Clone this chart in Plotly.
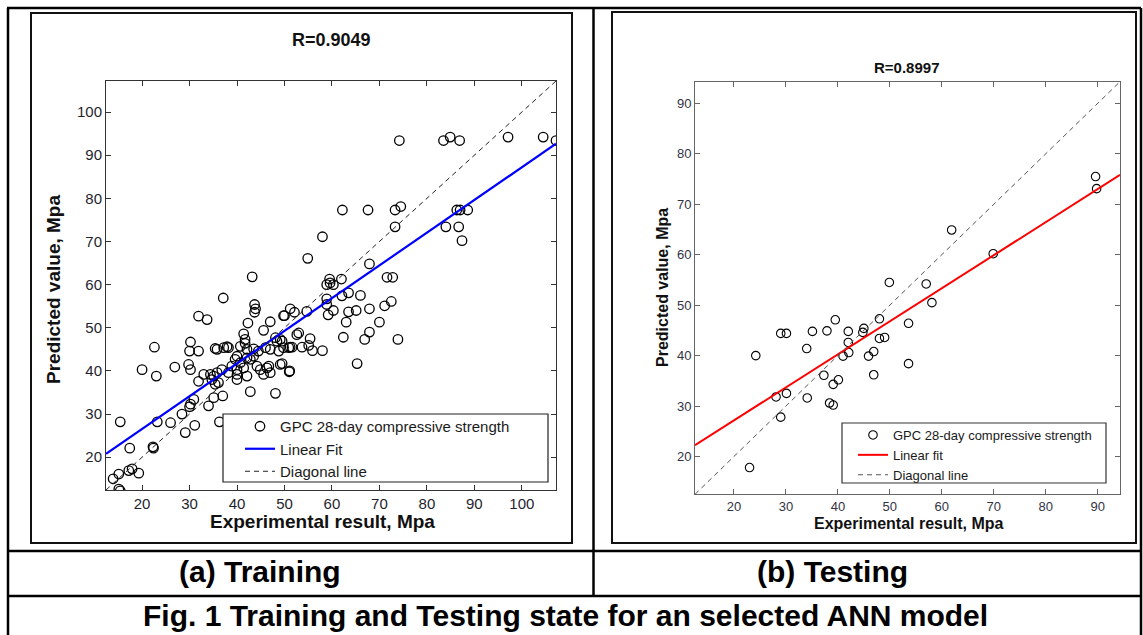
import plotly.graph_objects as go

W, H = 1143, 635

# ---------------- data ----------------
train_x = [74.2, 83.5, 84.9, 86.9, 97.1, 104.5, 107.2,
           62.2, 67.6, 73.3, 74.5, 86.3, 87.0, 88.6,
           73.3, 84.0, 86.7, 87.4, 58.0, 54.9, 67.9,
           59.5, 62.0, 71.6, 72.8, 43.2,
           58.9, 60.3, 59.6,
           63.5, 66.0, 62.1, 58.9, 58.9, 72.5, 71.1, 67.9, 65.1, 63.5, 60.3, 59.2, 54.7, 51.2, 52.1, 50.0,
           63.0, 70.0, 67.9, 62.4, 66.9, 73.9, 53.0, 55.4,
           55.1, 53.7, 51.6, 51.2, 49.5, 55.9, 58.0,
           65.3, 49.5, 51.0,
           37.1, 43.7, 43.9, 43.7, 31.9, 33.7, 42.3, 47.0, 49.8, 45.6, 41.4, 41.7, 48.1, 49.1, 48.4, 30.2, 22.6, 30.0, 31.9,
           35.4, 35.8, 37.9, 37.2, 38.2, 40.7, 41.7, 42.1,
           43.5, 44.5, 46.0, 47.0, 48.8, 49.8, 50.9, 52.6,
           20.0, 23.0, 26.9, 29.8, 30.2, 31.9, 33.0,
           34.4, 35.1, 34.7, 35.8, 36.1, 35.4,
           36.8, 38.2, 38.9, 39.6, 40.0, 40.7, 40.0, 41.4, 42.1, 42.8, 43.5,
           44.2, 44.9, 46.3, 45.6, 46.7, 47.0,
           49.1, 51.1, 40.0, 42.1, 40.0,
           42.8, 48.1, 37.0, 35.1, 34.0,
           30.9, 30.2, 30.0,
           28.4, 26.0, 23.2, 15.4, 31.1, 29.1, 36.3,
           17.4, 22.3, 22.4,
           13.9, 15.1, 17.2, 17.9, 19.3, 15.1, 15.4]
train_y = [93.4, 93.4, 94.2, 93.4, 94.2, 94.2, 93.4,
           77.3, 77.3, 77.3, 78.1, 77.3, 77.3, 77.3,
           73.4, 73.4, 73.4, 70.2, 71.1, 66.1, 64.8,
           61.3, 61.3, 61.7, 61.7, 61.8,
           60.0, 60.0, 60.4,
           58.1, 57.5, 57.4, 56.7, 55.4, 56.1, 55.1, 54.4, 54.0, 53.7, 54.0, 53.0, 53.8, 54.4, 53.6, 52.8,
           51.3, 51.3, 49.0, 47.8, 47.3, 47.3, 48.8, 47.5,
           45.9, 45.5, 45.5, 45.5, 46.9, 44.7, 44.7,
           41.7, 41.7, 39.8,
           56.9, 55.4, 54.4, 53.6, 52.7, 51.9, 51.1, 51.4, 52.8, 49.4, 48.6, 47.3, 47.7, 47.3, 46.9, 46.7, 45.5, 44.6, 44.6,
           45.2, 45.0, 45.6, 45.4, 45.4, 45.7, 46.4, 45.0,
           45.1, 44.6, 45.4, 45.0, 44.6, 45.4, 45.4, 48.4,
           40.3, 38.8, 40.9, 41.5, 40.3, 37.6, 39.2,
           39.2, 38.8, 38.0, 39.6, 37.3, 36.9,
           40.3, 39.6, 41.1, 42.7, 43.4, 41.9, 40.3, 40.7, 43.0, 42.7, 43.4,
           41.1, 40.3, 40.7, 39.2, 41.1, 39.6,
           41.5, 40.0, 38.0, 38.8, 39.2,
           35.2, 34.8, 34.2, 33.8, 31.9,
           33.4, 32.3, 31.7,
           30.0, 28.0, 28.2, 28.2, 27.4, 25.7, 28.2,
           22.1, 22.4, 22.1,
           15.0, 16.1, 16.9, 17.3, 16.3, 12.6, 12.2]

test_x = [49.9, 57.0, 58.1, 53.6, 48.0, 39.5, 29.0, 30.1, 35.1, 37.9, 42.0, 45.0, 44.8,
          42.0, 48.0, 49.0, 34.0, 24.2, 42.1, 41.0, 45.9, 46.9, 53.6, 37.3, 46.9, 40.1,
          39.1, 30.1, 28.1, 34.1, 38.4, 39.1, 29.0, 23.0, 61.9, 69.9, 89.6, 89.8]
test_y = [54.5, 54.2, 50.5, 46.4, 47.3, 47.1, 44.4, 44.4, 44.8, 44.9, 44.8, 45.4, 44.6,
          42.6, 43.4, 43.6, 41.4, 40.0, 40.6, 39.9, 39.9, 40.8, 38.4, 36.1, 36.2, 35.2,
          34.3, 32.5, 31.8, 31.6, 30.6, 30.2, 27.8, 17.8, 64.9, 60.2, 75.5, 73.1]

train_fit = (0.758, 11.4)      # slope, intercept of the blue linear fit
test_fit = (0.655, 14.05)      # slope, intercept of the red linear fit
train_range = [12.4, 107.2]
test_range = [12.5, 94.3]
train_ticks = [20, 30, 40, 50, 60, 70, 80, 90, 100]
test_ticks = [20, 30, 40, 50, 60, 70, 80, 90]
train_title = "R=0.9049"
test_title = "R=0.8997"
x_title = "Experimental result, Mpa"
y_title = "Predicted value, Mpa"
series_name = "GPC 28-day compressive strength"
train_fit_name = "Linear Fit"
test_fit_name = "Linear fit"
diag_name = "Diagonal line"
panel_a = "(a) Training"
panel_b = "(b) Testing"
caption = "Fig. 1 Training and Testing state for an selected ANN model"

FONT = "Liberation Sans, Arial, sans-serif"


def px(x):
    return x / W


def py(y):
    return 1 - y / H


fig = go.Figure()

# ---------- training panel ----------
fig.add_trace(go.Scatter(
    x=train_x, y=train_y, mode="markers", name=series_name,
    marker=dict(symbol="circle-open", size=9.5, color="black", line=dict(width=1.3, color="black")),
    xaxis="x", yaxis="y", legend="legend"))
fx = train_range
fig.add_trace(go.Scatter(
    x=fx, y=[train_fit[0] * v + train_fit[1] for v in fx], mode="lines", name=train_fit_name,
    line=dict(color="#0000ff", width=2.2), xaxis="x", yaxis="y", legend="legend"))
fig.add_trace(go.Scatter(
    x=train_range, y=train_range, mode="lines", name=diag_name,
    line=dict(color="#222222", width=1, dash="5px,4px"), xaxis="x", yaxis="y", legend="legend"))

# ---------- testing panel ----------
fig.add_trace(go.Scatter(
    x=test_x, y=test_y, mode="markers", name=series_name,
    marker=dict(symbol="circle-open", size=8.5, color="black", line=dict(width=1.1, color="black")),
    xaxis="x2", yaxis="y2", legend="legend2"))
gx = test_range
fig.add_trace(go.Scatter(
    x=gx, y=[test_fit[0] * v + test_fit[1] for v in gx], mode="lines", name=test_fit_name,
    line=dict(color="#ff0000", width=2), xaxis="x2", yaxis="y2", legend="legend2"))
fig.add_trace(go.Scatter(
    x=test_range, y=test_range, mode="lines", name=diag_name,
    line=dict(color="#555555", width=1, dash="5px,4px"), xaxis="x2", yaxis="y2", legend="legend2"))

axis_common = dict(showgrid=False, zeroline=False, showline=True, mirror="ticks",
                   ticks="inside", ticklen=5, tickwidth=1)

fig.update_layout(
    width=W, height=H, autosize=False,
    margin=dict(l=0, r=0, t=0, b=0),
    paper_bgcolor="white", plot_bgcolor="white",
    font=dict(family=FONT, color="#1a1a1a"),
    xaxis=dict(domain=[px(106), px(556)], range=train_range, tickvals=train_ticks,
               linecolor="#333333", tickcolor="#333333", tickfont=dict(size=15, color="#1f1f2e"),
               anchor="y", **axis_common),
    yaxis=dict(domain=[py(490), py(81)], range=train_range, tickvals=train_ticks,
               linecolor="#333333", tickcolor="#333333", tickfont=dict(size=15, color="#1f1f2e"),
               anchor="x", **axis_common),
    xaxis2=dict(domain=[px(695), px(1120)], range=test_range, tickvals=test_ticks,
                linecolor="#666666", tickcolor="#666666", tickfont=dict(size=13, color="#333344"),
                anchor="y2", **axis_common),
    yaxis2=dict(domain=[py(494.3), py(81.7)], range=test_range, tickvals=test_ticks,
                linecolor="#666666", tickcolor="#666666", tickfont=dict(size=13, color="#333344"),
                anchor="x2", **axis_common),
    legend=dict(x=px(240), y=py(410), xanchor="left", yanchor="top",
                bgcolor="rgba(0,0,0,0)", borderwidth=0, tracegroupgap=0,
                font=dict(size=15, color="#1a1a1a", family=FONT)),
    legend2=dict(x=px(853), y=py(420), xanchor="left", yanchor="top",
                 bgcolor="rgba(0,0,0,0)", borderwidth=0, tracegroupgap=0,
                 font=dict(size=13, color="#1a1a1a", family=FONT)),
)

shapes = []
# legend boxes
shapes.append(dict(type="rect", xref="paper", yref="paper", x0=px(223), x1=px(548), y0=py(482), y1=py(414),
                   line=dict(color="#222222", width=1.2), fillcolor="white", layer="above"))
shapes.append(dict(type="rect", xref="paper", yref="paper", x0=px(842), x1=px(1106), y0=py(483), y1=py(423),
                   line=dict(color="#333333", width=1.2), fillcolor="white", layer="above"))
# inner figure frames
shapes.append(dict(type="rect", xref="paper", yref="paper", x0=px(31), x1=px(572), y0=py(543), y1=py(13),
                   line=dict(color="#111111", width=2), fillcolor="rgba(0,0,0,0)", layer="above"))
shapes.append(dict(type="rect", xref="paper", yref="paper", x0=px(612), x1=px(1136), y0=py(543), y1=py(12),
                   line=dict(color="#111111", width=2), fillcolor="rgba(0,0,0,0)", layer="above"))
# table lines
table_lines = [
    (7, 8, 1141, 8), (8, 8, 8, 635), (1141, 8, 1141, 635), (593.5, 8, 593.5, 596),
    (7, 551, 1141, 551), (7, 596, 1141, 596),
]
for x0, y0, x1, y1 in table_lines:
    shapes.append(dict(type="line", xref="paper", yref="paper", x0=px(x0), y0=py(y0), x1=px(x1), y1=py(y1),
                       line=dict(color="black", width=2.5), layer="above"))
fig.update_layout(shapes=shapes)

ann = []


def add_text(text, x, y, size, bold=True, angle=0, color="#111111"):
    t = f"<b>{text}</b>" if bold else text
    ann.append(dict(text=t, x=px(x), y=py(y), xref="paper", yref="paper", showarrow=False,
                    xanchor="center", yanchor="middle", textangle=angle,
                    font=dict(size=size, family=FONT, color=color)))


add_text(train_title, 331, 40, 18)
add_text(test_title, 906, 67, 15)
add_text(x_title, 322, 521, 19)
add_text(x_title, 908, 523, 16)
add_text(y_title, 53, 290, 19, angle=-90)
add_text(y_title, 662, 288, 16, angle=-90)
add_text(panel_a, 260, 571, 30, color="black")
add_text(panel_b, 832, 571, 30, color="black")
add_text(caption, 565, 615, 30, color="black")
fig.update_layout(annotations=ann)

fig.write_html("out.html")
